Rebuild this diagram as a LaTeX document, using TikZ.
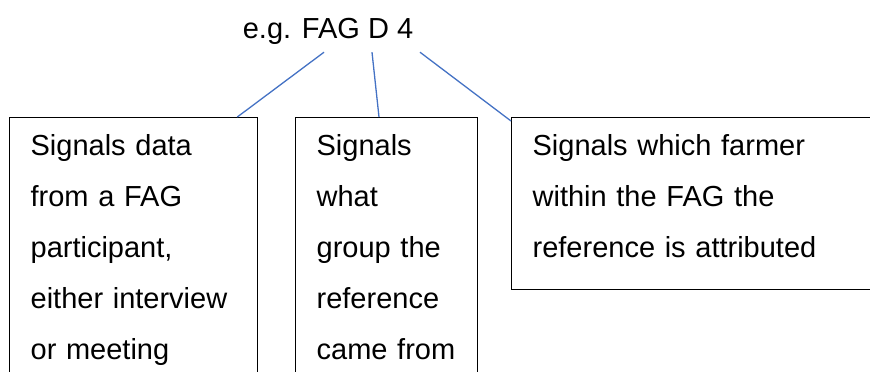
\documentclass[tikz,border=0pt]{standalone}
\usepackage{fontspec}
\setmainfont{Liberation Sans}
\usepackage{tikz}
\usetikzlibrary{positioning}

\definecolor{linkblue}{HTML}{4472C4}

\begin{document}
\begin{tikzpicture}[x=1pt, y=-1pt,
		box/.style={draw, line width=1.3pt, anchor=north west, align=left,
			inner xsep=21pt, inner ysep=17pt, font=\fontsize{29}{51}\selectfont},
		link/.style={draw=linkblue, line width=1.3pt}]
		\path[clip, use as bounding box] (0,0) rectangle (870,372); % page = 870 x 372
		
		% ---------------------- top label ----------------------
		\node (code) [anchor=base, inner sep=0pt, font=\fontsize{29}{34}\selectfont] at (328,38) {e.g. FAG D 4};
		
		% ---------------------- three boxes ----------------------
		\node (fag) [box, text width=206pt] at (9,117)
			{Signals data\\from a FAG\\participant,\\either interview\\or meeting};
		\node (group) [box, text width=140pt] at (295,117)
			{Signals\\what\\group the\\reference\\came from};
		\node (farmer) [box, text width=338pt, text depth=117pt] at (511,117)
			{Signals which farmer\\within the FAG the\\reference is attributed};
		
		% ---------------------- connectors ----------------------
		\coordinate (s1) at ([xshift=-4pt, yshift=-8pt]code.south);
		\coordinate (s2) at ([xshift=44pt, yshift=-8pt]code.south);
		\coordinate (s3) at ([xshift=92pt, yshift=-8pt]code.south);
		\coordinate (e1) at ([xshift=-21pt]fag.north east);
		\coordinate (e2) at ([xshift=84pt]group.north west);
		\coordinate (e3) at ([yshift=-4pt]farmer.north west);
		\foreach \s/\e in {s1/e1, s2/e2, s3/e3} {
			\draw[link] (\s) -- (\e); % one line per part of the code
		}
	\end{tikzpicture}
\end{document}
